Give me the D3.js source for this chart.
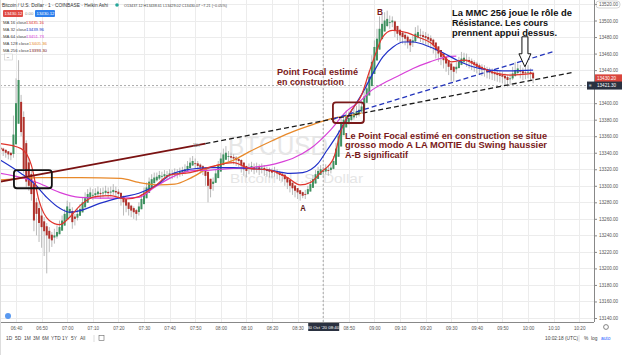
<!DOCTYPE html>
<html><head><meta charset="utf-8">
<script src="https://cdn.jsdelivr.net/npm/d3@7"></script>
<style>body{margin:0;background:#fff}svg{display:block}text{font-family:"Liberation Sans",Arial,sans-serif}</style>
</head><body>
<svg id="c" width="625" height="355"></svg>
<script>
// ---- data (1-minute Heikin Ashi candles, index 0 = 06:34) ----
const firstOpen = 13346;
const closes = [13344,13342,13340,13338,13337,13362,13400,13428,13365,13320,13305,13300,13290,13258,13266,13255,13250,13245,13240,13236,
13234,13240,13244,13250,13258,13266,13275,13272,13256,13260,13266,13272,13280,13285,13290,13292,13289,13291,13293,13290,
13292,13294,13291,13293,13295,13292,13290,13284,13280,13276,13272,13270,13268,13266,13275,13284,13292,13298,13305,13308,
13310,13311,13313,13312,13314,13313,13315,13314,13316,13315,13317,13318,13320,13324,13328,13330,13327,13324,13322,13320,
13312,13300,13296,13305,13315,13325,13333,13338,13340,13336,13334,13333,13331,13330,13325,13320,13318,13322,13324,13321,
13323,13320,13322,13319,13318,13317,13316,13318,13315,13313,13312,13308,13304,13300,13297,13294,13292,13290,13288,13290,
13296,13302,13308,13314,13318,13320,13318,13321,13319,13322,13330,13345,13360,13375,13380,13384,13382,13386,13388,13390,
13392,13396,13408,13418,13432,13450,13468,13478,13490,13496,13500,13502,13498,13500,13488,13484,13482,13480,13478,13474,
13470,13476,13484,13486,13482,13480,13479,13477,13475,13470,13464,13460,13456,13452,13448,13444,13440,13438,13444,13450,
13454,13455,13452,13450,13448,13446,13444,13442,13441,13440,13438,13437,13436,13435,13434,13433,13432,13430,13428,13430,
13436,13440,13442,13438,13436,13437,13438,13436,13430];
const highs = [13348,13346,13344,13342,13341,13385,13430,13452,13410,13390,13355,13332,13318,13304,13285,13280,13272,13262,13255,13250,
13244,13248,13252,13258,13264,13272,13282,13280,13274,13266,13272,13278,13286,13292,13296,13298,13296,13297,13299,13297,
13298,13300,13298,13299,13302,13299,13296,13292,13288,13284,13280,13277,13275,13272,13280,13290,13298,13304,13310,13314,
13316,13316,13318,13317,13319,13318,13320,13319,13321,13320,13322,13323,13326,13330,13334,13336,13333,13330,13327,13325,
13322,13315,13305,13310,13320,13330,13340,13345,13348,13342,13340,13338,13336,13335,13332,13328,13324,13327,13329,13327,
13328,13326,13327,13325,13323,13322,13321,13323,13320,13318,13317,13314,13310,13306,13303,13300,13297,13295,13293,13295,
13300,13307,13313,13319,13323,13325,13323,13326,13324,13327,13336,13352,13367,13382,13387,13391,13390,13393,13395,13397,
13399,13403,13414,13426,13440,13458,13476,13490,13505,13508,13510,13512,13506,13505,13500,13492,13490,13487,13485,13482,
13478,13482,13492,13494,13490,13487,13486,13484,13482,13478,13472,13468,13464,13460,13456,13452,13448,13445,13450,13456,
13462,13461,13460,13456,13454,13452,13450,13448,13447,13446,13444,13443,13442,13441,13440,13439,13438,13436,13434,13436,
13444,13450,13448,13446,13443,13444,13446,13442,13438];
const lows = [13338,13336,13334,13332,13331,13334,13358,13395,13360,13315,13298,13294,13282,13245,13240,13232,13225,13215,13194,13220,
13226,13230,13236,13242,13250,13258,13266,13262,13248,13252,13258,13264,13272,13278,13284,13286,13283,13285,13287,13284,
13286,13288,13285,13287,13289,13286,13284,13276,13264,13268,13264,13262,13260,13258,13264,13274,13283,13290,13298,13302,
13304,13305,13307,13306,13308,13307,13309,13308,13310,13309,13311,13312,13314,13318,13322,13324,13320,13317,13315,13313,
13300,13280,13286,13294,13306,13316,13325,13330,13333,13329,13327,13326,13324,13323,13316,13312,13310,13314,13317,13314,
13316,13313,13315,13312,13311,13310,13309,13311,13308,13306,13305,13300,13296,13292,13289,13286,13284,13282,13285,13284,
13289,13295,13301,13307,13311,13313,13311,13314,13312,13315,13320,13326,13340,13355,13368,13376,13374,13378,13380,13382,
13384,13388,13396,13404,13414,13430,13446,13460,13472,13484,13490,13492,13490,13492,13480,13476,13474,13472,13470,13466,
13462,13468,13474,13478,13474,13472,13471,13469,13466,13460,13454,13450,13446,13442,13438,13434,13426,13426,13436,13442,
13446,13448,13444,13442,13440,13438,13436,13434,13433,13432,13430,13429,13428,13427,13426,13425,13424,13422,13420,13422,
13428,13432,13434,13430,13428,13429,13430,13428,13424];

// moving averages [minute index, value]
const ma16 = [[0,13351],[8,13345],[12,13325],[15,13282],[19,13258],[23,13253],[27,13262],[31,13276],[37,13287],[43,13288],[49,13284],[54,13287],[60,13299],[66,13313],[74,13316],[81,13322],[91,13328],[97,13321],[105,13319],[112,13310],[117,13301],[121,13304],[125,13316],[130,13333],[133,13367],[137,13391],[141,13410],[144,13438],[147,13464],[149,13479],[153,13488],[159,13485],[163,13480],[168,13473],[172,13461],[176,13450],[181,13452],[187,13444],[194,13436],[199,13434],[208,13436]];
const ma32 = [[0,13331],[8,13315],[13,13303],[18,13286],[23,13273],[27,13268],[31,13270],[39,13279],[47,13286],[54,13291],[62,13303],[66,13313],[74,13320],[82,13322],[91,13322],[97,13321],[105,13319],[113,13315],[118,13316],[124,13327],[127.5,13343],[131.4,13361],[136.5,13388],[141.5,13413],[145.4,13436],[149.3,13456],[153.3,13468],[157.2,13474],[161,13474],[167.7,13468],[172.8,13461],[178.3,13452],[184.5,13444],[191.1,13440],[196.2,13439],[208,13440]];
const ma64 = [[0,13315],[8,13310],[15,13303],[23,13292],[31,13286],[39,13285],[47,13285],[54,13286],[60,13298],[66,13309],[74,13318],[82,13319],[91,13321],[97,13322],[105,13325],[110,13329],[114,13333],[121,13345],[129,13368],[135,13390],[141,13404],[144.3,13414],[150.1,13425],[156,13434],[161.1,13442],[167.7,13450],[174.3,13456],[178,13457]];
const ma128 = [[0,13307],[15,13310],[31,13310],[47,13309],[54,13304],[62,13301],[68,13302],[74,13309],[81,13321],[91,13331],[97,13341],[105,13353],[113,13364],[121,13373],[130,13382],[136.5,13385],[141,13388]];
const ma256 = [[0,13305],[80,13351]];
const supportLine = [[80,13351],[223,13437]];      // black dashed
const channelLine = [[130,13381],[216.5,13463]];   // blue dashed

const priceTicks = [13140,13160,13180,13200,13220,13240,13260,13280,13300,13320,13340,13360,13380,13400,13420,13440,13460,13480,13500,13520];
const timeTickIdx = [6,16,26,36,46,56,66,76,86,96,106,116,126,136,146,156,166,176,186,196,206,216,226];
const timeLabels = ["06:40","06:50","07:00","07:10","07:20","07:30","07:40","07:50","08:00","08:10","08:20","08:30","08:40","08:50","09:00","09:10","09:20","09:30","09:40","09:50","10:00","10:10","10:20"];
const crossIdx = 126, crossPrice = 13421.3;
const maNames = ["MA 16 close","MA 32 close","MA 64 close","MA 128 close","MA 256 close"];
const maValues = ["13435.16","13439.96","13451.73","13405.36","13393.30"];
const maColors = ["#e0342c","#2030c8","#d840d8","#e8892a","#7a1212"];

// ---- scales ----
const W = 625, H = 355, plotR = 594, plotB = 322;
const x = d3.scaleLinear().domain([6, 206]).range([16, 528]);
const y = d3.scaleLinear().domain([13140, 13520]).range([318, 4]);
const svg = d3.select("#c");
svg.append("rect").attr("width", W).attr("height", H).attr("fill", "#fff");
const defs = svg.append("defs");
defs.append("clipPath").attr("id","plot").append("rect").attr("x",0).attr("y",0).attr("width",plotR).attr("height",plotB);

// grid
const grid = svg.append("g");
grid.selectAll("line.h").data(priceTicks).join("line")
  .attr("x1",0).attr("x2",plotR).attr("y1",d=>Math.round(y(d))+0.5).attr("y2",d=>Math.round(y(d))+0.5)
  .attr("stroke","#ececec");
grid.selectAll("line.v").data(timeTickIdx).join("line")
  .attr("y1",0).attr("y2",plotB).attr("x1",d=>Math.round(x(d))+0.5).attr("x2",d=>Math.round(x(d))+0.5)
  .attr("stroke","#ececec");

const plot = svg.append("g").attr("clip-path","url(#plot)");

// watermark
plot.append("text").attr("x",228).attr("y",155).attr("font-size",27).attr("fill","#e6e6e6")
  .attr("textLength",100).attr("lengthAdjust","spacingAndGlyphs").text("BTCUSD");
plot.append("text").attr("x",230).attr("y",183).attr("font-size",13).attr("fill","#e6e6e6")
  .attr("textLength",133).attr("lengthAdjust","spacingAndGlyphs").text("Bitcoin / U.S. Dollar");

// crosshair
plot.append("line").attr("x1",x(crossIdx)).attr("x2",x(crossIdx)).attr("y1",0).attr("y2",plotB)
  .attr("stroke","#888").attr("stroke-dasharray","2,2").attr("stroke-width",0.7);
plot.append("line").attr("x1",0).attr("x2",plotR).attr("y1",y(crossPrice)).attr("y2",y(crossPrice))
  .attr("stroke","#888").attr("stroke-dasharray","2,2").attr("stroke-width",0.7);

// candles
const opens = [];
closes.forEach((c,i)=>opens.push(i===0 ? firstOpen : (opens[i-1]+closes[i-1])/2));
const candles = closes.map((c,i)=>({i, o:opens[i], c, h:Math.max(highs[i],opens[i],c), l:Math.min(lows[i],opens[i],c)}));
const cg = plot.append("g");
cg.selectAll("line").data(candles).join("line")
  .attr("x1",d=>x(d.i)).attr("x2",d=>x(d.i)).attr("y1",d=>y(d.h)).attr("y2",d=>y(d.l))
  .attr("stroke","#a8a8a8").attr("stroke-width",0.8);
cg.selectAll("rect").data(candles).join("rect")
  .attr("x",d=>x(d.i)-1).attr("width",2)
  .attr("y",d=>y(Math.max(d.o,d.c))).attr("height",d=>Math.max(0.9,Math.abs(y(d.o)-y(d.c))))
  .attr("fill",d=>d.c>=d.o ? "#3f9160" : "#b0302a");

// MA lines
const line = d3.line().x(d=>x(d[0])).y(d=>y(d[1])).curve(d3.curveMonotoneX);
const straight = d3.line().x(d=>x(d[0])).y(d=>y(d[1]));
plot.append("path").datum(ma128).attr("d",line).attr("fill","none").attr("stroke",maColors[3]).attr("stroke-width",1.3);
plot.append("path").datum(ma64).attr("d",line).attr("fill","none").attr("stroke",maColors[2]).attr("stroke-width",1.2);
plot.append("path").datum(ma32).attr("d",line).attr("fill","none").attr("stroke",maColors[1]).attr("stroke-width",1.2);
plot.append("path").datum(ma16).attr("d",line).attr("fill","none").attr("stroke",maColors[0]).attr("stroke-width",1.2);
plot.append("path").datum(ma256).attr("d",straight).attr("fill","none").attr("stroke",maColors[4]).attr("stroke-width",1.8);
plot.append("path").datum(supportLine).attr("d",straight).attr("fill","none").attr("stroke","#1a1a1a").attr("stroke-width",1.3).attr("stroke-dasharray","5,3");
plot.append("path").datum(channelLine).attr("d",straight).attr("fill","none").attr("stroke","#2233bb").attr("stroke-width",1.3).attr("stroke-dasharray","5,3");
plot.append("text").attr("x",x(75)).attr("y",y(13347)).attr("font-size",4.5).attr("fill","#888").text("11h");

// boxes
plot.append("rect").attr("x",x(5.2)).attr("y",y(13319)).attr("width",x(20)-x(5.2)).attr("height",y(13297)-y(13319))
  .attr("rx",3).attr("fill","none").attr("stroke","#111").attr("stroke-width",1.8);
plot.append("rect").attr("x",x(129.8)).attr("y",y(13401)).attr("width",x(141.9)-x(129.8)).attr("height",y(13376)-y(13401))
  .attr("rx",3).attr("fill","none").attr("stroke","#7a1a1a").attr("stroke-width",1.8);

// arrow
const ax = x(204.8), at = y(13444);
plot.append("path").attr("d",`M${ax-3},${at-30} L${ax+3},${at-30} L${ax+3},${at-13} L${ax+6},${at-13} L${ax},${at} L${ax-6},${at-13} L${ax-3},${at-13} Z`)
  .attr("fill","#fff").attr("stroke","#111").attr("stroke-width",1);

// annotations
const ann = svg.append("g").attr("font-weight","bold").attr("font-size",8.6);
function t(xp,yp,str,len,col){ann.append("text").attr("x",xp).attr("y",yp).attr("fill",col).attr("textLength",len).attr("lengthAdjust","spacingAndGlyphs").text(str);}
const mar = "#7a1a1a";
t(277,75,"Point Focal estimé",81,mar);
t(277,85,"en construction",67,mar);
t(345,138.5,"Le Point Focal estimé en construction se situe",202,mar);
t(345,148,"grosso modo A  LA MOITIE du Swing haussier",202,mar);
t(345,157.5,"A-B significatif",63,mar);
t(452,16,"La MMC 256 joue le rôle de",120,"#111");
t(452,26,"Résistance. Les cours",96,"#111");
t(452,35.5,"prennent appui dessus.",105,"#111");
t(x(118)-2.5,211,"A",5.5,"#5a1515");
t(x(148)-2.5,15,"B",6,"#7a1a1a");

// axes
svg.append("line").attr("x1",plotR+0.5).attr("x2",plotR+0.5).attr("y1",0).attr("y2",plotB).attr("stroke","#888");
svg.append("line").attr("x1",0).attr("x2",plotR).attr("y1",plotB+0.5).attr("y2",plotB+0.5).attr("stroke","#888");
const lastC = closes[closes.length-1];
const hidden = v => Math.abs(y(v)-y(crossPrice))<7 || Math.abs(y(v)-y(lastC))<6;
const yAxis = svg.append("g").attr("transform",`translate(${plotR+0.5},0)`)
  .call(d3.axisRight(y).tickValues(priceTicks).tickSize(2.5).tickPadding(2).tickFormat(d3.format(".2f")));
yAxis.select(".domain").remove();
yAxis.selectAll("line").attr("stroke","#888");
yAxis.selectAll("text").attr("font-size",4.6).attr("fill","#555").attr("font-family","Liberation Sans, Arial")
  .attr("opacity",d=>hidden(d)?0:1);
svg.append("rect").attr("x",596).attr("y",1).attr("width",24).attr("height",7).attr("rx",3).attr("fill","none").attr("stroke","#bbb").attr("stroke-width",0.6);

const xAxis = svg.append("g").attr("transform",`translate(0,${plotB+0.5})`)
  .call(d3.axisBottom(x).tickValues(timeTickIdx).tickSize(0).tickPadding(4).tickFormat((d,i)=>timeLabels[i]));
xAxis.select(".domain").remove();
xAxis.selectAll("text").attr("font-size",4.6).attr("fill","#555").attr("font-family","Liberation Sans, Arial")
  .attr("opacity",d=>d===crossIdx?0:1);

// price tags
svg.append("rect").attr("x",plotR+1).attr("y",y(lastC)-4).attr("width",27).attr("height",8).attr("fill","#d9453c");
svg.append("text").attr("x",plotR+3).attr("y",y(lastC)+1.8).attr("font-size",4.6).attr("fill","#fff").text(d3.format(".2f")(lastC+0.2));
svg.append("rect").attr("x",plotR-7).attr("y",y(crossPrice)-4).attr("width",35).attr("height",8).attr("fill","#2a3140");
svg.append("text").attr("x",plotR-5).attr("y",y(crossPrice)+1.8).attr("font-size",4.6).attr("fill","#fff").text("≡");
svg.append("text").attr("x",plotR+3).attr("y",y(crossPrice)+1.8).attr("font-size",4.6).attr("fill","#fff").text(d3.format(".2f")(crossPrice));
svg.append("rect").attr("x",x(crossIdx)-15).attr("y",plotB+1).attr("width",31).attr("height",8).attr("fill","#2a3140");
svg.append("text").attr("x",x(crossIdx)).attr("y",plotB+6.8).attr("text-anchor","middle").attr("font-size",4.4).attr("fill","#fff").text("30 Oct '20   08:40");

// header legend
const lg = svg.append("g").attr("font-size",4.8).attr("fill","#333");
lg.append("text").attr("x",2).attr("y",7).attr("textLength",106).attr("lengthAdjust","spacingAndGlyphs").text("Bitcoin / U.S. Dollar · 1 · COINBASE · Heikin Ashi");
lg.append("circle").attr("cx",117).attr("cy",5).attr("r",1.8).attr("fill","#26a69a");
lg.append("text").attr("x",124).attr("y",7).attr("font-size",4.3).attr("textLength",103).attr("lengthAdjust","spacingAndGlyphs").attr("fill","#444")
  .text("O13437.12 H13438.61 L13429.02 C13430.07 −7.21 (−0.05%)");
lg.append("rect").attr("x",3).attr("y",10).attr("width",20).attr("height",7).attr("rx",1).attr("fill","#e04b45");
lg.append("text").attr("x",4.5).attr("y",15).attr("fill","#fff").attr("font-size",4.3).text("13430.12");
lg.append("text").attr("x",25).attr("y",15).attr("fill","#888").attr("font-size",4.3).text("0.00");
lg.append("rect").attr("x",35).attr("y",10).attr("width",20).attr("height",7).attr("rx",1).attr("fill","#2f80ed");
lg.append("text").attr("x",36.5).attr("y",15).attr("fill","#fff").attr("font-size",4.3).text("13430.12");
maNames.forEach((n,k)=>{
  const yy = 23.5 + k*7.2;
  lg.append("text").attr("x",3).attr("y",yy).attr("fill","#444").attr("font-size",4.3).text(n);
  lg.append("text").attr("x",k<3?26:29).attr("y",yy).attr("fill",maColors[k]).attr("font-size",4.3).text(maValues[k]);
});
lg.append("rect").attr("x",4.5).attr("y",54).attr("width",8).attr("height",6).attr("fill","#fff").attr("stroke","#ccc").attr("stroke-width",0.6);
lg.append("text").attr("x",6.8).attr("y",58.6).attr("font-size",4.5).text("−");

// bottom toolbar
const tb = svg.append("g").attr("font-size",4.8).attr("fill","#444");
["1D","5D","1M","3M","6M","YTD","1Y","5Y","All"].forEach((s,k)=>{
  const xs=[6,15,24,33,42,51,62,71,80][k];
  tb.append("text").attr("x",xs).attr("y",340).text(s);
});
tb.append("line").attr("x1",94).attr("x2",94).attr("y1",335).attr("y2",342).attr("stroke","#ddd");
tb.append("rect").attr("x",99).attr("y",335.5).attr("width",5).attr("height",5).attr("fill","none").attr("stroke","#666").attr("stroke-width",0.6);
tb.append("text").attr("x",545).attr("y",340).text("10:02:18 (UTC)");
tb.append("line").attr("x1",579).attr("x2",579).attr("y1",335).attr("y2",342).attr("stroke","#ddd");
tb.append("text").attr("x",584).attr("y",340).text("%");
tb.append("text").attr("x",591).attr("y",340).text("log");
tb.append("text").attr("x",601).attr("y",340).attr("fill","#2962ff").text("auto");
svg.append("circle").attr("cx",606).attr("cy",327).attr("r",2.4).attr("fill","none").attr("stroke","#666").attr("stroke-width",0.8);
svg.append("circle").attr("cx",8).attr("cy",316).attr("r",3).attr("fill","#2f80ed").attr("opacity",0.8);
svg.append("line").attr("x1",0.5).attr("x2",0.5).attr("y1",0).attr("y2",H).attr("stroke","#ddd");
</script>
</body></html>
